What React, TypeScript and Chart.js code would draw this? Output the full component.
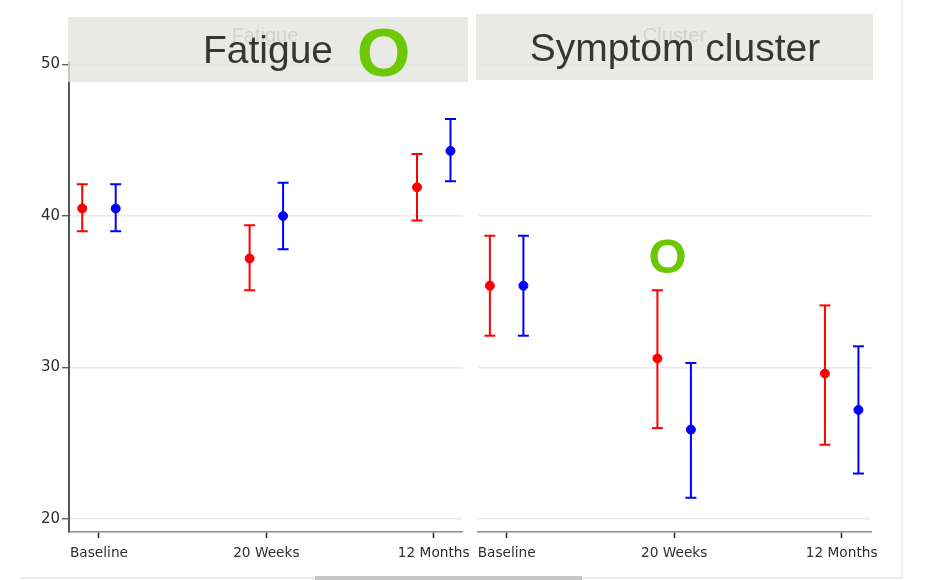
import React, { useEffect, useRef } from 'react';
import { Chart, registerables } from 'chart.js';

Chart.register(...registerables);

// ---------- data ----------
const categories = ['Baseline', '20 Weeks', '12 Months'];
const yTickValues = [20, 30, 40, 50];
const panelTitles = ['Fatigue', 'Symptom cluster'];
const panelGhostTitles = ['Fatigue', 'Cluster'];
const annotationMark = 'O';

// Fatigue panel
const fatigueRedMean = [40.5, 37.2, 41.9];
const fatigueRedLow = [39.0, 35.1, 39.7];
const fatigueRedHigh = [42.1, 39.4, 44.1];
const fatigueBlueMean = [40.5, 40.0, 44.3];
const fatigueBlueLow = [39.0, 37.8, 42.3];
const fatigueBlueHigh = [42.1, 42.2, 46.4];

// Symptom cluster panel
const symptomRedMean = [35.4, 30.6, 29.6];
const symptomRedLow = [32.1, 26.0, 24.9];
const symptomRedHigh = [38.7, 35.1, 34.1];
const symptomBlueMean = [35.4, 25.9, 27.2];
const symptomBlueLow = [32.1, 21.4, 23.0];
const symptomBlueHigh = [38.7, 30.3, 31.4];

// ---------- styling / layout ----------
const RED = 'rgb(255,0,0)';
const BLUE = 'rgb(0,0,255)';
const GREEN = '#6cc800';
const HEADER_BG = '#e3e4df';
const GRID = '#e2ecec';
const TEXT = '#2e2e2e';
const SHIFT = 0.1;
const Y_MIN = 19.14;
const Y_MAX = 50.17;

function seriesDatasets(mean: number[], low: number[], high: number[], color: string, shift: number) {
  const ci: any[] = [];
  low.forEach((lo, i) => {
    const x = i + 1 + shift;
    ci.push({ x, y: lo }, { x, y: high[i] }, { x, y: null });
  });
  return [
    {
      type: 'line',
      data: mean.map((m, i) => ({ x: i + 1 + shift, y: m })),
      showLine: false,
      pointStyle: 'circle',
      pointRadius: 4.5,
      pointBackgroundColor: color,
      pointBorderColor: color,
      pointBorderWidth: 1,
      order: 0,
    },
    {
      type: 'line',
      data: ci,
      showLine: true,
      spanGaps: false,
      borderColor: color,
      borderWidth: 2,
      pointStyle: 'line',
      pointRadius: 5.5,
      pointBorderColor: color,
      pointBorderWidth: 2,
      order: 1,
    },
  ];
}

function headerPlugin(box: { x: number; y: number; w: number; h: number }, title: string, ghost: string, titleX: number, titleY: number, ghostX: number, marks: { x: number; y: number; size: number }[]) {
  return {
    id: 'header' + title.replace(/\s/g, ''),
    afterDraw(chart: any) {
      const ctx = chart.ctx as CanvasRenderingContext2D;
      ctx.save();
      ctx.globalAlpha = 0.8;
      ctx.fillStyle = HEADER_BG;
      ctx.fillRect(box.x, box.y, box.w, box.h);
      ctx.globalAlpha = 1;
      ctx.textAlign = 'center';
      ctx.textBaseline = 'alphabetic';
      ctx.fillStyle = '#d2d2d0';
      ctx.font = '20px "Liberation Sans", Arial, sans-serif';
      ctx.fillText(ghost, ghostX, 42);
      ctx.fillStyle = '#363636';
      ctx.font = '39px "Liberation Sans", Arial, sans-serif';
      ctx.fillText(title, titleX, titleY);
      ctx.fillStyle = GREEN;
      marks.forEach((m) => {
        ctx.font = `bold ${m.size}px "Liberation Sans", Arial, sans-serif`;
        ctx.fillText(annotationMark, m.x, m.y);
      });
      ctx.restore();
    },
  };
}

function buildConfig(opts: {
  datasets: any[];
  xMin: number;
  xMax: number;
  showY: boolean;
  padding: any;
  plugin: any;
}) {
  return {
    type: 'line',
    data: { datasets: opts.datasets },
    plugins: [opts.plugin],
    options: {
      responsive: false,
      animation: false,
      events: [],
      layout: { padding: opts.padding },
      plugins: { legend: { display: false }, tooltip: { enabled: false }, title: { display: false } },
      scales: {
        x: {
          type: 'linear',
          min: opts.xMin,
          max: opts.xMax,
          afterBuildTicks: (s: any) => {
            s.ticks = categories.map((_, i) => ({ value: i + 1 }));
          },
          afterFit: (s: any) => {
            s.height = 48;
          },
          ticks: {
            autoSkip: false,
            maxRotation: 0,
            padding: 7,
            color: TEXT,
            font: { family: '"DejaVu Sans", Verdana, sans-serif', size: 13.7 },
            callback: (v: any) => categories[Math.round(v) - 1] ?? '',
          },
          grid: { drawOnChartArea: false, drawTicks: true, tickLength: 6, tickColor: '#222', tickWidth: 1.5 },
          border: { color: '#8c8c8c', width: 1.5 },
        },
        y: {
          type: 'linear',
          min: Y_MIN,
          max: Y_MAX,
          afterBuildTicks: (s: any) => {
            s.ticks = yTickValues.map((v) => ({ value: v }));
          },
          afterFit: (s: any) => {
            s.width = opts.showY ? 69 : 0;
          },
          ticks: {
            display: opts.showY,
            padding: 2,
            color: TEXT,
            font: { family: '"DejaVu Sans", Verdana, sans-serif', size: 15 },
          },
          grid: {
            color: GRID,
            lineWidth: 1.5,
            drawTicks: opts.showY,
            tickLength: 7,
            tickColor: '#444',
            tickWidth: 1.2,
          },
          border: { display: opts.showY, color: '#555', width: 2 },
        },
      },
    },
  };
}

export default function App() {
  const leftRef = useRef<HTMLCanvasElement | null>(null);
  const rightRef = useRef<HTMLCanvasElement | null>(null);

  useEffect(() => {
    const left = new Chart(
      leftRef.current as HTMLCanvasElement,
      buildConfig({
        datasets: [
          ...seriesDatasets(fatigueRedMean, fatigueRedLow, fatigueRedHigh, RED, -SHIFT),
          ...seriesDatasets(fatigueBlueMean, fatigueBlueLow, fatigueBlueHigh, BLUE, SHIFT),
        ],
        xMin: 0.821,
        xMax: 3.173,
        showY: true,
        padding: { left: 0, top: 62, right: 480 - 462.7, bottom: 0 },
        plugin: headerPlugin({ x: 68, y: 17, w: 400, h: 65 }, panelTitles[0], panelGhostTitles[0], 268, 63, 265, [
          { x: 383.5, y: 76, size: 69 },
        ]),
      }) as any
    );
    const right = new Chart(
      rightRef.current as HTMLCanvasElement,
      buildConfig({
        datasets: [
          ...seriesDatasets(symptomRedMean, symptomRedLow, symptomRedHigh, RED, -SHIFT),
          ...seriesDatasets(symptomBlueMean, symptomBlueLow, symptomBlueHigh, BLUE, SHIFT),
        ],
        xMin: 0.829,
        xMax: 3.175,
        showY: false,
        padding: { left: 8, top: 62, right: 462 - 401, bottom: 0 },
        plugin: headerPlugin({ x: 6, y: 14, w: 397, h: 66 }, panelTitles[1], panelGhostTitles[1], 205, 61, 204.5, [
          { x: 197.5, y: 273, size: 49 },
        ]),
      }) as any
    );
    return () => {
      left.destroy();
      right.destroy();
    };
  }, []);

  return (
    <div style={{ position: 'fixed', left: 0, top: 0, width: 932, height: 580, background: '#fff', overflow: 'hidden' }}>
      <canvas ref={leftRef} width={480} height={580} style={{ position: 'absolute', left: 0, top: 0 }} />
      <canvas ref={rightRef} width={462} height={580} style={{ position: 'absolute', left: 470, top: 0 }} />
      <div style={{ position: 'absolute', left: 901, top: 0, width: 2, height: 577, background: '#eef2f2' }} />
      <div style={{ position: 'absolute', left: 20, top: 577, width: 883, height: 2, background: '#e9ebeb' }} />
      <div style={{ position: 'absolute', left: 315, top: 576, width: 267, height: 4, background: '#c6c6c6' }} />
    </div>
  );
}
